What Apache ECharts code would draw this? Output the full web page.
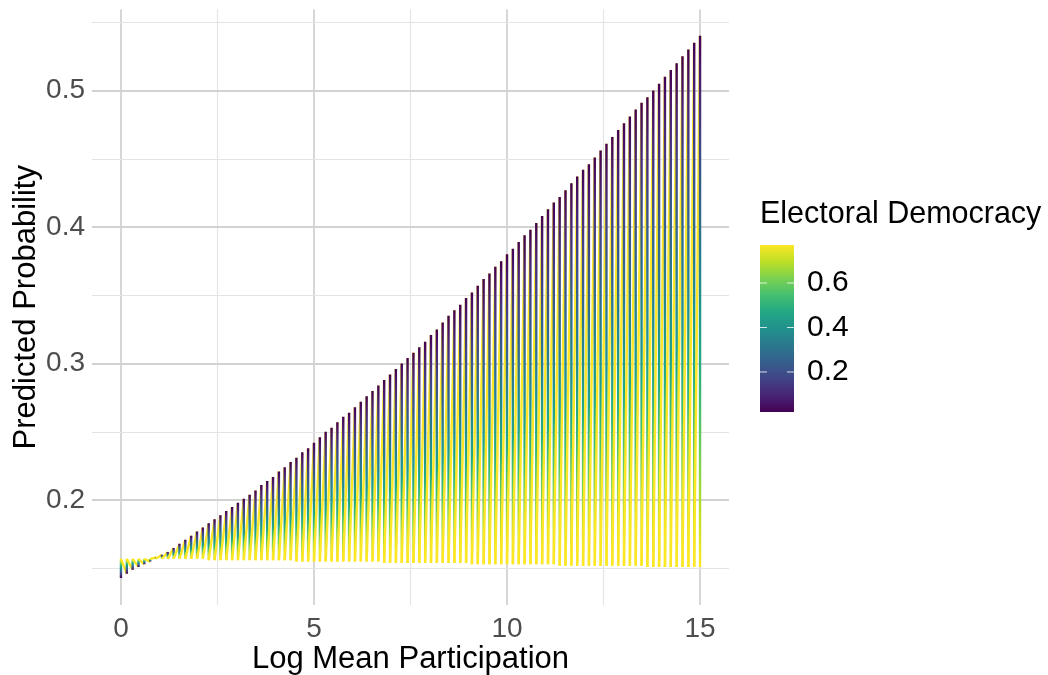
<!DOCTYPE html>
<html>
<head>
<meta charset="utf-8">
<script src="https://cdn.jsdelivr.net/npm/echarts@6/dist/echarts.min.js"></script>
<style>
  html, body { margin: 0; padding: 0; background: #fff; }
  #chart { width: 1048px; height: 675px; }
</style>
</head>
<body>
<div id="chart"></div>
<script>
// log mean participation grid (x)
var participation = [
  0, 0.152, 0.303, 0.455, 0.606, 0.758, 0.909, 1.061, 1.212, 1.364,
  1.515, 1.667, 1.818, 1.970, 2.121, 2.273, 2.424, 2.576, 2.727, 2.879,
  3.030, 3.182, 3.333, 3.485, 3.636, 3.788, 3.939, 4.091, 4.242, 4.394,
  4.545, 4.697, 4.848, 5.000, 5.152, 5.303, 5.455, 5.606, 5.758, 5.909,
  6.061, 6.212, 6.364, 6.515, 6.667, 6.818, 6.970, 7.121, 7.273, 7.424,
  7.576, 7.727, 7.879, 8.030, 8.182, 8.333, 8.485, 8.636, 8.788, 8.939,
  9.091, 9.242, 9.394, 9.545, 9.697, 9.848, 10.000, 10.152, 10.303, 10.455,
  10.606, 10.758, 10.909, 11.061, 11.212, 11.364, 11.515, 11.667, 11.818, 11.970,
  12.121, 12.273, 12.424, 12.576, 12.727, 12.879, 13.030, 13.182, 13.333, 13.485,
  13.636, 13.788, 13.939, 14.091, 14.242, 14.394, 14.545, 14.697, 14.848, 15.000
];
// predicted probability at lowest electoral democracy (purple end)
var probLowDem = [
  0.143, 0.146, 0.149, 0.151, 0.153, 0.155, 0.158, 0.160, 0.162, 0.165,
  0.168, 0.171, 0.174, 0.177, 0.180, 0.183, 0.186, 0.189, 0.192, 0.195,
  0.198, 0.201, 0.204, 0.207, 0.211, 0.214, 0.217, 0.221, 0.224, 0.228,
  0.231, 0.235, 0.238, 0.242, 0.246, 0.250, 0.253, 0.257, 0.261, 0.264,
  0.268, 0.272, 0.276, 0.280, 0.284, 0.288, 0.292, 0.296, 0.300, 0.304,
  0.308, 0.312, 0.316, 0.321, 0.325, 0.330, 0.335, 0.339, 0.343, 0.348,
  0.352, 0.357, 0.362, 0.366, 0.371, 0.375, 0.380, 0.384, 0.389, 0.394,
  0.398, 0.403, 0.408, 0.413, 0.418, 0.422, 0.427, 0.432, 0.437, 0.442,
  0.446, 0.451, 0.456, 0.461, 0.466, 0.471, 0.476, 0.481, 0.486, 0.491,
  0.495, 0.500, 0.505, 0.510, 0.515, 0.520, 0.525, 0.530, 0.535, 0.540
];
// predicted probability at highest electoral democracy (yellow end)
var probHighDem = [
  0.157, 0.157, 0.157, 0.157, 0.157, 0.157, 0.157, 0.157, 0.157, 0.157,
  0.157, 0.157, 0.157, 0.157, 0.157, 0.156, 0.156, 0.156, 0.156, 0.156,
  0.156, 0.156, 0.156, 0.156, 0.156, 0.156, 0.156, 0.156, 0.156, 0.156,
  0.155, 0.155, 0.155, 0.155, 0.155, 0.155, 0.155, 0.155, 0.155, 0.155,
  0.155, 0.155, 0.155, 0.155, 0.155, 0.154, 0.154, 0.154, 0.154, 0.154,
  0.154, 0.154, 0.154, 0.154, 0.154, 0.154, 0.154, 0.154, 0.154, 0.154,
  0.153, 0.153, 0.153, 0.153, 0.153, 0.153, 0.153, 0.153, 0.153, 0.153,
  0.153, 0.153, 0.153, 0.153, 0.153, 0.152, 0.152, 0.152, 0.152, 0.152,
  0.152, 0.152, 0.152, 0.152, 0.152, 0.152, 0.152, 0.152, 0.152, 0.152,
  0.151, 0.151, 0.151, 0.151, 0.151, 0.151, 0.151, 0.151, 0.151, 0.151
];

var xMajor = [0, 5, 10, 15];
var xMinor = [2.5, 7.5, 12.5];
var yMajor = [0.2, 0.3, 0.4, 0.5];
var yMinor = [0.15, 0.25, 0.35, 0.45, 0.55];
var legendTicks = [0.2, 0.4, 0.6];
var legendMin = 0.02, legendMax = 0.771;

var viridis = ['#440154', '#482475', '#414487', '#355f8d', '#2a788e', '#21918c',
               '#22a884', '#44bf70', '#7ad151', '#bddf26', '#fde725'];
var viridisStops = viridis.map(function (c, k) { return { offset: k / 10, color: c }; });

var FONT = '"Liberation Sans", Arial, sans-serif';

var seriesData = participation.map(function (x, i) {
    var last = i === participation.length - 1;
    return [x, probLowDem[i], probHighDem[i],
            last ? x : participation[i + 1],
            last ? probHighDem[i] : probLowDem[i + 1]];
});

var gridLines = [];
xMajor.forEach(function (v) { gridLines.push({ xAxis: v, lineStyle: { color: '#d2d2d2', width: 1.8, type: 'solid' } }); });
xMinor.forEach(function (v) { gridLines.push({ xAxis: v, lineStyle: { color: '#e4e4e4', width: 1.2, type: 'solid' } }); });
yMajor.forEach(function (v) { gridLines.push({ yAxis: v, lineStyle: { color: '#d2d2d2', width: 1.8, type: 'solid' } }); });
yMinor.forEach(function (v) { gridLines.push({ yAxis: v, lineStyle: { color: '#e4e4e4', width: 1.2, type: 'solid' } }); });

// legend colour bar
var barLeft = 760, barTop = 245, barW = 34, barH = 167;
var legendEls = [
    { type: 'text', left: 760, top: 199,
      style: { text: 'Electoral Democracy', fill: '#000', font: '30.5px ' + FONT } },
    { type: 'rect', left: barLeft, top: barTop,
      shape: { width: barW, height: barH },
      style: { fill: new echarts.graphic.LinearGradient(0, 1, 0, 0, viridisStops) } }
];
legendTicks.forEach(function (t) {
    var y = barTop + barH * (legendMax - t) / (legendMax - legendMin);
    legendEls.push({ type: 'line', shape: { x1: barLeft, y1: y, x2: barLeft + 7, y2: y },
                     style: { stroke: 'rgba(255,255,255,0.8)', lineWidth: 1 } });
    legendEls.push({ type: 'line', shape: { x1: barLeft + barW - 7, y1: y, x2: barLeft + barW, y2: y },
                     style: { stroke: 'rgba(255,255,255,0.8)', lineWidth: 1 } });
    legendEls.push({ type: 'text', x: 807, y: y,
                     style: { text: t.toFixed(1), fill: '#000', font: '30px ' + FONT,
                              textVerticalAlign: 'middle' } });
});

var chart = echarts.init(document.getElementById('chart'));
chart.setOption({
    animation: false,
    backgroundColor: '#fff',
    grid: { left: 92, right: 319, top: 9.5, bottom: 70, outerBoundsMode: 'none', containLabel: false },
    xAxis: {
        type: 'value', min: -0.75, max: 15.75,
        axisLine: { show: false }, axisTick: { show: false },
        splitLine: { show: false },
        axisLabel: { customValues: xMajor, color: '#4d4d4d', fontSize: 28, fontFamily: FONT, margin: 10 },
        name: 'Log Mean Participation', nameLocation: 'middle', nameGap: 39, nameMoveOverlap: false,
        nameTextStyle: { color: '#000', fontSize: 31, fontFamily: FONT }
    },
    yAxis: {
        type: 'value', min: 0.1232, max: 0.5593,
        axisLine: { show: false }, axisTick: { show: false },
        splitLine: { show: false },
        axisLabel: { customValues: yMajor, color: '#4d4d4d', fontSize: 28, fontFamily: FONT, margin: 7,
                     formatter: function (v) { return v.toFixed(1); } },
        name: 'Predicted Probability', nameLocation: 'middle', nameGap: 50, nameMoveOverlap: false,
        nameTextStyle: { color: '#000', fontSize: 31, fontFamily: FONT }
    },
    graphic: legendEls,
    series: [
        {
            type: 'line', data: [], z: 1, silent: true,
            markLine: { silent: true, symbol: 'none', label: { show: false }, z: 1,
                        animation: false, data: gridLines }
        },
        {
            type: 'custom', z: 3, clip: true,
            data: seriesData,
            encode: { x: 0, y: [1, 2] },
            renderItem: function (params, api) {
                var top = api.coord([api.value(0), api.value(1)]);
                var bot = api.coord([api.value(0), api.value(2)]);
                var nxt = api.coord([api.value(3), api.value(4)]);
                return {
                    type: 'group',
                    children: [
                        { type: 'line',
                          shape: { x1: top[0], y1: top[1], x2: bot[0], y2: bot[1] },
                          style: { lineWidth: 2.4,
                                   stroke: new echarts.graphic.LinearGradient(top[0], top[1], bot[0], bot[1] + 0.01, viridisStops, true) } },
                        { type: 'line',
                          shape: { x1: bot[0], y1: bot[1], x2: nxt[0], y2: nxt[1] },
                          style: { lineWidth: 2.4, stroke: '#fde725' } }
                    ]
                };
            }
        }
    ]
});
</script>
</body>
</html>
